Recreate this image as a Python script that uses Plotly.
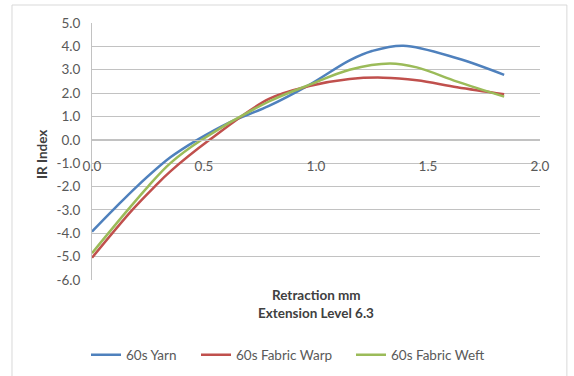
import plotly.graph_objects as go

# Retraction (mm) and IR index readings for each sample
yarn_x = [0.0, 0.10, 0.20, 0.35, 0.47, 0.61, 0.79, 0.97, 1.15, 1.25, 1.39, 1.63, 1.84]
yarn_y = [-3.93, -2.95, -2.0, -0.75, 0.0, 0.73, 1.45, 2.35, 3.4, 3.8, 4.03, 3.49, 2.78]

warp_x = [0.0, 0.18, 0.28, 0.35, 0.525, 0.79, 0.97, 1.15, 1.30, 1.45, 1.63, 1.84]
warp_y = [-5.05, -3.0, -2.0, -1.35, 0.0, 1.75, 2.3, 2.6, 2.66, 2.55, 2.25, 1.95]

weft_x = [0.0, 0.16, 0.25, 0.35, 0.49, 0.79, 0.97, 1.15, 1.33, 1.45, 1.63, 1.84]
weft_y = [-4.85, -3.0, -2.0, -1.0, 0.0, 1.64, 2.35, 3.0, 3.27, 3.1, 2.49, 1.85]

series_names = ["60s Yarn", "60s Fabric Warp", "60s Fabric Weft"]
series_colors = ["#4F81BD", "#C0504D", "#9BBB59"]

y_ticks = [-6, -5, -4, -3, -2, -1, 0, 1, 2, 3, 4, 5]
y_tick_text = ["-6.0", "-5.0", "-4.0", "-3.0", "-2.0", "-1.0", "0.0", "1.0", "2.0", "3.0", "4.0", "5.0"]
x_ticks = [0.0, 0.5, 1.0, 1.5, 2.0]
x_tick_text = ["0.0", "0.5", "1.0", "1.5", "2.0"]

FONT = "Lato, 'Noto Sans', sans-serif"
TEXT = "#595959"
TITLE = "#404040"
GRID = "#c2c2c2"
FS = 13.5

W, H = 574, 376

# one legend box per series so each entry sits where it belongs in the row
legend_ids = ["legend", "legend2", "legend3"]
legend_px = [86, 196, 351]

fig = go.Figure()
for xs, ys, name, color, lid in zip([yarn_x, warp_x, weft_x], [yarn_y, warp_y, weft_y],
                                    series_names, series_colors, legend_ids):
    fig.add_trace(go.Scatter(
        x=xs, y=ys, name=name, mode="lines", legend=lid,
        line=dict(color=color, width=2.5, shape="spline", smoothing=1.0),
        hoverinfo="skip",
    ))

y_min, y_max = y_ticks[0], y_ticks[-1]
zero_pos = (0 - y_min) / (y_max - y_min)

legend_common = dict(orientation="h", xanchor="left", xref="container", yref="container",
                     y=1 - 355 / H, yanchor="middle",
                     font=dict(family=FONT, size=FS, color=TEXT),
                     bgcolor="rgba(0,0,0,0)", borderwidth=0)
legends = {lid: dict(x=px / W, **legend_common) for lid, px in zip(legend_ids, legend_px)}

fig.update_layout(
    width=W, height=H,
    margin=dict(l=92, r=34, t=23, b=96, autoexpand=False),
    paper_bgcolor="white", plot_bgcolor="white",
    font=dict(family=FONT, size=FS, color=TEXT),
    showlegend=True,
    **legends,
    xaxis=dict(range=[0, 2], tickvals=x_ticks, ticktext=x_tick_text,
               showgrid=False, zeroline=False, showline=True, linecolor=GRID, linewidth=1,
               anchor="free", position=zero_pos, automargin=False,
               ticks="outside", ticklen=14, tickcolor="rgba(0,0,0,0)",
               tickfont=dict(family=FONT, size=FS, color=TEXT)),
    yaxis=dict(range=[y_min, y_max], tickvals=y_ticks, ticktext=y_tick_text,
               showgrid=True, gridcolor=GRID, gridwidth=1.4, zeroline=False,
               showline=True, linecolor=GRID, linewidth=1, automargin=False,
               ticks="outside", ticklen=8, tickcolor="rgba(0,0,0,0)",
               tickfont=dict(family=FONT, size=FS, color=TEXT)),
    shapes=[dict(type="rect", xref="paper", yref="paper",
                 x0=-0.1786, x1=1.060, y0=-0.6, y1=1.070,
                 line=dict(color="#d9d9d9", width=1), fillcolor="rgba(0,0,0,0)", layer="below")],
    annotations=[
        dict(text="<b>IR Index</b>", xref="paper", yref="paper", x=-0.112, y=0.49,
             xanchor="center", yanchor="middle",
             textangle=-90, showarrow=False, font=dict(family=FONT, size=FS, color=TITLE)),
        dict(text="<b>Retraction mm</b>", xref="paper", yref="paper", x=0.5, y=-0.06,
             xanchor="center", yanchor="middle",
             showarrow=False, font=dict(family=FONT, size=FS, color=TITLE)),
        dict(text="<b>Extension Level 6.3</b>", xref="paper", yref="paper", x=0.5, y=-0.13,
             xanchor="center", yanchor="middle",
             showarrow=False, font=dict(family=FONT, size=FS, color=TITLE)),
    ],
)

fig.write_html("out.html")
